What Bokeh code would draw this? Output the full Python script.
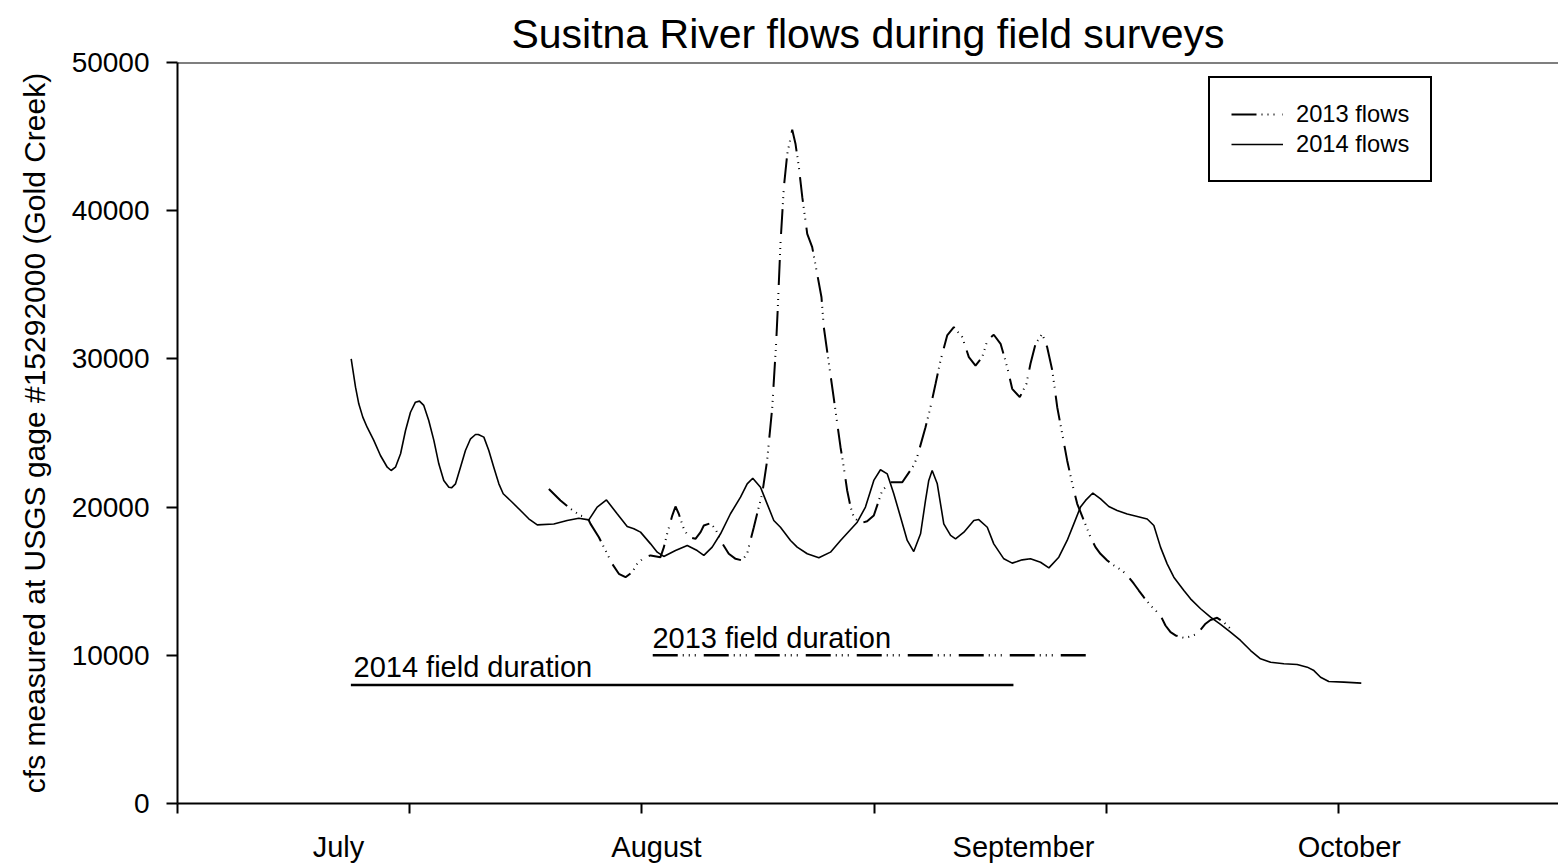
from bokeh.plotting import figure
from bokeh.models import Range1d, FixedTicker, BasicTickFormatter, Label, Span, LinearAxis
from bokeh.embed import file_html
from bokeh.resources import INLINE

FONT = "Liberation Sans"

# x in days (ticks every 15 days), y in cfs
x_ticks = [0, 15, 30, 45, 60, 75]
y_ticks = [0, 10000, 20000, 30000, 40000, 50000]
month_names = ["July", "August", "September", "October"]
month_pos = [10.4, 30.94, 54.65, 75.7]

x2014 = [11.22, 11.50, 11.71, 11.97, 12.25, 12.68, 13.11, 13.55, 13.80, 14.08, 14.41, 14.73,
         15.05, 15.37, 15.63, 15.91, 16.23, 16.56, 16.88, 17.20, 17.53, 17.70, 17.96, 18.28,
         18.60, 18.93, 19.25, 19.43, 19.79, 20.11, 20.43, 20.76, 21.04, 21.62, 22.16, 22.69,
         23.24, 24.31, 25.17, 25.92, 26.57, 27.11, 27.71, 28.40, 29.05, 29.48, 29.91, 30.56,
         30.99, 31.41, 32.17, 32.93, 33.57, 34.0, 34.54, 35.08, 35.72, 36.37, 36.80, 37.16,
         37.66, 38.09, 38.52, 38.95, 39.6, 40.03, 40.68, 41.43, 42.18, 42.83, 43.91, 44.44,
         44.98, 45.41, 45.85, 46.27, 46.71, 47.14, 47.56, 48.0, 48.32, 48.53, 48.75, 49.08,
         49.29, 49.5, 49.94, 50.26, 50.80, 51.44, 51.76, 52.31, 52.73, 53.38, 53.92, 54.57,
         55.1, 55.75, 56.29, 56.93, 57.47, 57.90, 58.33, 58.66, 59.13, 59.63, 60.16, 60.70,
         61.35, 62.0, 62.64, 63.07, 63.5, 63.93, 64.36, 65.01, 65.44, 66.09, 66.73, 67.38,
         68.02, 68.67, 69.32, 69.96, 70.61, 71.47, 72.33, 72.98, 73.41, 73.84, 74.37, 75.34,
         76.47]
flow2014 = [30000, 28090, 26970, 26070, 25390, 24500, 23480, 22690, 22470, 22690, 23600, 25170,
            26400, 27080, 27150, 26860, 25840, 24500, 22920, 21800, 21340, 21300, 21570, 22690,
            23820, 24610, 24900, 24900, 24720, 23820, 22690, 21570, 20900, 20330, 19770, 19210,
            18800, 18860, 19100, 19250, 19140, 20000, 20480, 19550, 18690, 18540, 18310, 17520,
            16960, 16670, 17070, 17410, 17070, 16740, 17300, 18200, 19550, 20670, 21570, 21950,
            21340, 20220, 19100, 18640, 17750, 17300, 16850, 16580, 16960, 17750, 18980, 20000,
            21800, 22520, 22240, 20900, 19320, 17750, 17000, 18200, 20450, 21800, 22470, 21570,
            20220, 18870, 18090, 17860, 18310, 19100, 19160, 18640, 17520, 16510, 16220, 16440,
            16510, 16280, 15900, 16620, 17750, 18870, 20000, 20450, 20950, 20550, 20040, 19770,
            19540, 19370, 19200, 18760, 17300, 16170, 15270, 14370, 13810, 13140, 12570, 12080,
            11560, 11000, 10320, 9760, 9530, 9430, 9380, 9200, 8970, 8520, 8230, 8190,
            8120]

x2013 = [23.99, 24.74, 25.39, 26.03, 26.47, 26.68, 27.22, 27.65, 28.08, 28.51, 28.94, 29.37,
         29.7, 30.12, 30.56, 31.2, 31.42, 31.63, 31.96, 32.17, 32.38, 32.71, 33.03, 33.46,
         33.79, 34.0, 34.43, 34.75, 35.08, 35.61, 36.05, 36.48, 36.8, 37.23, 37.55, 37.77,
         38.09, 38.42, 38.68, 38.78, 38.95, 39.17, 39.39, 39.71, 39.92, 40.14, 40.36, 40.68,
         41.0, 41.32, 41.6, 41.75, 41.93, 42.4, 42.83, 43.04, 43.26, 43.48, 43.69, 44.12,
         44.55, 44.98, 45.52, 46.06, 46.82, 47.56, 47.78, 48.32, 48.64, 48.97, 49.29, 49.72,
         50.15, 50.69, 51.12, 51.55, 51.98, 52.31, 52.73, 53.17, 53.6, 53.92, 54.41, 54.84,
         55.1, 55.43, 55.86, 56.18, 56.51, 56.83, 57.15, 57.47, 57.8, 58.12, 58.55, 58.98,
         59.30, 59.62, 60.06, 60.49, 61.03, 61.45, 61.78, 62.10, 62.42, 62.86, 63.29, 63.61,
         63.82, 64.15, 64.47, 65.01, 65.44, 65.87, 66.41, 66.73, 67.16, 67.59, 68.02]
flow2013 = [21220, 20450, 19880, 19430, 19320, 18870, 17970, 17070, 16170, 15500, 15270, 15610,
            16170, 16580, 16740, 16620, 17300, 18200, 19430, 20040, 19550, 18520, 17970, 17860,
            18310, 18760, 18910, 18520, 17750, 16850, 16510, 16400, 16870, 18640, 20000, 20900,
            23150, 26730, 31240, 33490, 37770, 41590, 43840, 45460, 44520, 42940, 40910, 38440,
            37540, 35740, 34160, 32140, 30790, 27300, 24040, 22690, 21120, 20000, 19320, 18910,
            19050, 19430, 21120, 21680, 21680, 22810, 23370, 25390, 26740, 28320, 29890, 31580,
            32140, 31470, 30120, 29550, 30120, 31240, 31630, 31020, 29440, 27980, 27420, 28320,
            29670, 31020, 31690, 30790, 29220, 26740, 24950, 23150, 21570, 20220, 19100, 17970,
            17300, 16850, 16400, 16060, 15720, 15270, 14830, 14370, 13920, 13360, 12910, 12460,
            12010, 11560, 11340, 11180, 11270, 11450, 12130, 12380, 12530, 12230, 11790]

dur2014_x = [11.2, 54.0]
dur2014_y = [8000, 8000]
dur2013_x = [30.7, 58.9]
dur2013_y = [10000, 10000]

DASH = "25 5 1 5 1 5 1 8"

p = figure(width=1558, height=865, output_backend="svg", toolbar_location=None,
           x_range=Range1d(0, 89.21), y_range=Range1d(0, 50000),
           min_border_left=177, min_border_right=0, min_border_top=62, min_border_bottom=62)
p.outline_line_color = None
p.grid.visible = False
p.background_fill_color = "white"

p.title.text = "Susitna River flows during field surveys"
p.title.align = "center"
p.title.text_font = FONT
p.title.text_font_size = "41px"
p.title.text_font_style = "normal"
p.title.text_color = "black"
p.title.standoff = 12

# axes
for ax in p.axis:
    ax.axis_line_width = 2
    ax.major_tick_line_width = 2
    ax.minor_tick_line_color = None
    ax.major_tick_in = 0
    ax.axis_line_color = "black"
    ax.major_tick_line_color = "black"

xa = p.xaxis[0]
xa.ticker = FixedTicker(ticks=x_ticks)
xa.major_tick_out = 10
xa.major_label_overrides = {t: "" for t in x_ticks}
xa.major_label_text_font_size = "0px"
xa.major_label_standoff = 0

ya = p.yaxis[0]
ya.ticker = FixedTicker(ticks=y_ticks)
ya.formatter = BasicTickFormatter(use_scientific=False)
ya.major_tick_out = 11
ya.major_label_standoff = 17
ya.major_label_text_font = FONT
ya.major_label_text_font_size = "28px"
ya.major_label_text_color = "black"
ya.axis_label = "cfs measured at USGS gage #15292000 (Gold Creek)"
ya.axis_label_text_font = FONT
ya.axis_label_text_font_size = "30px"
ya.axis_label_text_font_style = "normal"
ya.axis_label_text_color = "black"
ya.axis_label_standoff = 18

month_axis = LinearAxis(
    ticker=FixedTicker(ticks=month_pos),
    major_label_overrides={pos: name for pos, name in zip(month_pos, month_names)},
    axis_line_color=None, major_tick_line_color=None, minor_tick_line_color=None,
    major_tick_out=0, major_tick_in=0, major_label_standoff=17,
    major_label_text_font=FONT, major_label_text_font_size="29px",
    major_label_text_color="black")
p.add_layout(month_axis, "below")

p.add_layout(Span(location=50000, dimension="width", line_color="black", line_width=2))

# series
p.line(x2013, flow2013, line_color="black", line_width=2, line_dash=DASH, legend_label="2013 flows")
p.line(x2014, flow2014, line_color="black", line_width=1.6, legend_label="2014 flows")

p.line(dur2014_x, dur2014_y, line_color="black", line_width=2.5)
p.line(dur2013_x, dur2013_y, line_color="black", line_width=2.5, line_dash=DASH)

p.add_layout(Label(x=11.37, y=9180, text="2014 field duration", text_font=FONT,
                   text_font_size="29px", text_color="black",
                   text_align="left", text_baseline="alphabetic"))
p.add_layout(Label(x=30.68, y=11200, text="2013 field duration", text_font=FONT,
                   text_font_size="29px", text_color="black",
                   text_align="left", text_baseline="alphabetic"))

lg = p.legend[0]
lg.location = (1031, 621)
lg.border_line_color = "black"
lg.border_line_alpha = 1
lg.border_line_width = 2
lg.padding = 21
lg.spacing = 0
lg.margin = 0
lg.glyph_width = 52
lg.glyph_height = 30
lg.label_height = 30
lg.label_standoff = 13
lg.label_text_font = FONT
lg.label_text_font_size = "23.7px"
lg.label_text_color = "black"
lg.background_fill_alpha = 1

open("out.html", "w").write(file_html(p, INLINE))
